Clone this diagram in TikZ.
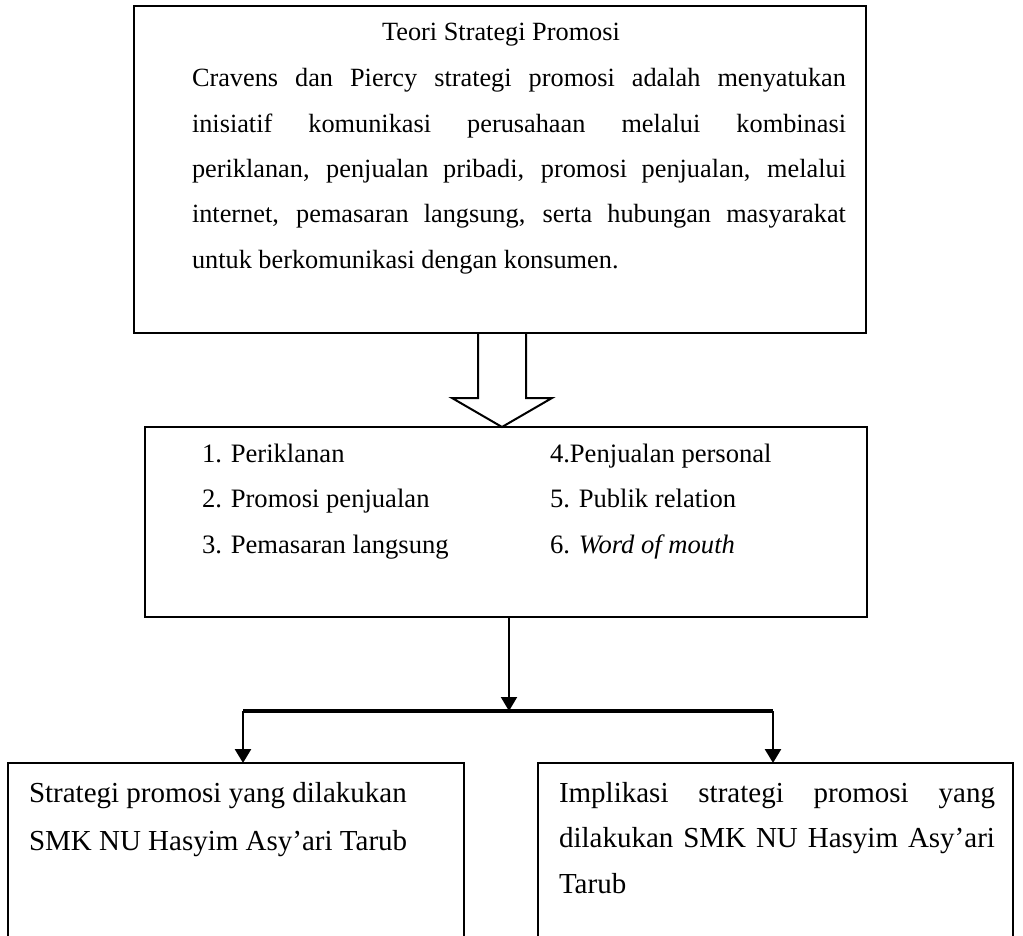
\documentclass[tikz,border=0pt]{standalone}
\usepackage{fontspec}
\setmainfont{Liberation Serif}
\usetikzlibrary{arrows.meta,calc}
\begin{document}
\begin{tikzpicture}[x=1pt,y=-1pt,
  box/.style={draw=black,line width=2pt,inner sep=0pt,outer sep=0pt},
  txt/.style={anchor=base west,inner sep=0pt,outer sep=0pt},
  conn/.style={draw=black,line width=2pt,-{Triangle[width=16pt,length=14pt]}},
  sideconn/.style={draw=black,line width=2.6pt,-{Triangle[width=16pt,length=14pt]}},
  barline/.style={draw=black,line width=4.5pt},
  hollow/.style={draw=black,line width=2pt,fill=white,line join=miter}]
\useasboundingbox (0,0) rectangle (1023,936);
\fill[white] (0,0) rectangle (1023,936);
% hollow arrow (drawn first so box borders stay on top)
\coordinate (atip) at (502,427);
\draw[hollow] ($(atip)+(-24,-94)$) -- ($(atip)+(-24,-29)$) -- ($(atip)+(-50,-29)$) -- (atip)
  -- ($(atip)+(50,-29)$) -- ($(atip)+(24,-29)$) -- ($(atip)+(24,-94)$);
% boxes
\node[box,minimum width=732pt,minimum height=327pt] (top) at (500,169.5) {};
\node[box,minimum width=722pt,minimum height=190pt] (mid) at (506,522) {};
\node[box,minimum width=456pt,minimum height=190pt] (left) at (236,858) {};
\node[box,minimum width=475pt,minimum height=190pt] (right) at (775.5,858) {};
% top box text
\node[anchor=base,inner sep=0pt] (title) at (501,41) {\fontsize{26.3}{45.3}\selectfont Teori Strategi Promosi};
\node[txt] (para) at (192,87) {\fontsize{26.3}{45.3}\selectfont\parbox[t]{654pt}{%
\makebox[654pt][s]{Cravens dan Piercy strategi promosi adalah menyatukan}\\
\makebox[654pt][s]{inisiatif komunikasi perusahaan melalui kombinasi}\\
\makebox[654pt][s]{periklanan, penjualan pribadi, promosi penjualan, melalui}\\
\makebox[654pt][s]{internet, pemasaran langsung, serta hubungan masyarakat}\\
untuk berkomunikasi dengan konsumen.}};
% middle box text
\node[txt] (col1) at (202,462) {\fontsize{26.6}{45.5}\selectfont\parbox[t]{320pt}{%
1. Periklanan\\
2. Promosi penjualan\\
3. Pemasaran langsung}};
\node[txt] (col2) at (550,462) {\fontsize{26.6}{45.5}\selectfont\parbox[t]{310pt}{%
4.Penjualan personal\\
5. Publik relation\\
6. \textit{Word of mouth}}};
% connectors
\coordinate (barC) at (509,711);
\coordinate (barL) at (243,711);
\coordinate (barR) at (773,711);
\draw[conn] (mid.south -| barC) -- (barC);
\draw[barline] (barL) -- (barR);
\draw[sideconn] (barL) -- (left.north -| barL);
\draw[sideconn] (barR) -- (right.north -| barR);
% bottom texts
\node[txt] (ltext) at (29,802) {\fontsize{29}{48.5}\selectfont\parbox[t]{420pt}{%
Strategi promosi yang dilakukan\\
SMK NU Hasyim Asy’ari Tarub}};
\node[txt] (rtext) at (559,802) {\fontsize{29}{45.5}\selectfont\parbox[t]{436pt}{%
\makebox[436pt][s]{Implikasi strategi promosi yang}\\
\makebox[436pt][s]{dilakukan SMK NU Hasyim Asy’ari}\\
Tarub}};
\end{tikzpicture}
\end{document}
